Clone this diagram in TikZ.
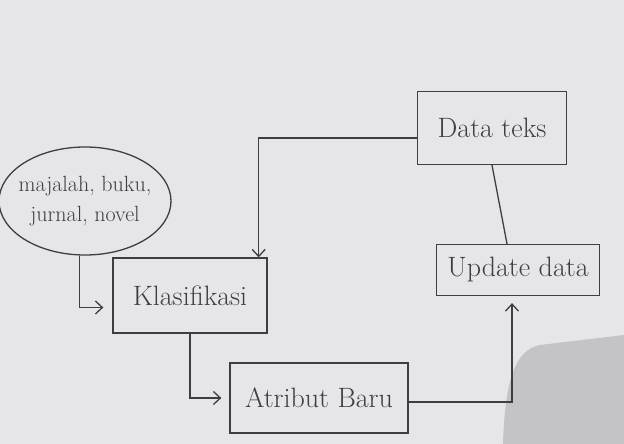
\documentclass[tikz,border=0pt]{standalone}
\usepackage{tikz}
\usetikzlibrary{arrows.meta,shapes.geometric}
\definecolor{paper}{RGB}{230,230,232}
\definecolor{photoshadow}{RGB}{196,196,198}
\definecolor{pencil}{RGB}{62,62,66}
\tikzset{
  sketchbox/.style={draw=pencil, line width=1.3pt, text=pencil, inner sep=0pt, font=\fontsize{28}{32}\selectfont},
  sketchblob/.style={ellipse, draw=pencil, line width=1.3pt, text=pencil, inner xsep=-14pt, inner ysep=-6pt, align=center, font=\fontsize{22}{30}\selectfont},
  flow/.style={draw=pencil, line width=1.3pt, -{Straight Barb[length=7pt,width=13pt]}},
  link/.style={draw=pencil, line width=1.3pt}
}
\begin{document}
\begin{tikzpicture}[x=1pt,y=-1pt]
			%%%%% START %%%%%
			
			\useasboundingbox (0, 0) rectangle (624, 444);
			\fill[paper] (0, 0) rectangle (624, 444);
			\fill[photoshadow] (624, 335) -- (540, 345) .. controls (515, 350) and (505, 380) .. (503, 444) -- (624, 444) -- cycle;
			
			\node[sketchblob, minimum width=172pt, minimum height=108pt] (src) at (85, 201) {majalah, buku,\\jurnal, novel};
			\node[sketchbox, minimum width=154pt, minimum height=75pt] (klas) at (190, 295.5) {Klasifikasi};
			\node[sketchbox, minimum width=149pt, minimum height=73pt] (teks) at (492, 128) {Data teks};
			\node[sketchbox, minimum width=163pt, minimum height=51pt] (upd) at (518, 270) {Update data};
			\node[sketchbox, minimum width=178pt, minimum height=70pt] (atr) at (319, 398) {Atribut Baru};
			
			\draw[flow, shorten >=9pt] (src.264) |- ([yshift=-12pt]klas.west);
			\draw[flow] ([yshift=-10pt]teks.west) -| ([xshift=-9pt]klas.north east);
			\draw[link] (teks.south) -- ([xshift=-11pt]upd.north);
			\draw[flow, shorten >=8pt] (klas.south) |- (atr.west);
			\draw[flow, shorten >=7pt] ([yshift=-4pt]atr.east) -| ([xshift=-6pt]upd.south);
			
			%%%%% END %%%%%
\end{tikzpicture}
\end{document}
